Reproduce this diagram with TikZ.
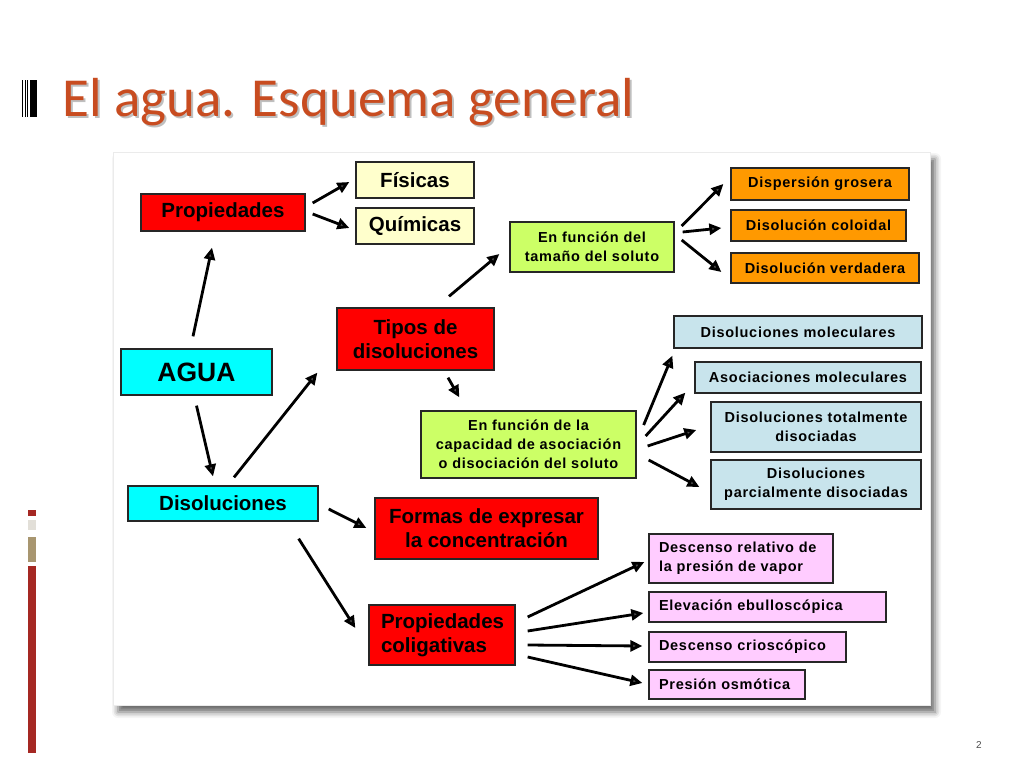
\documentclass[tikz,border=0pt]{standalone}
\usepackage{fontspec}
\setmainfont{Liberation Sans}
\newfontfamily\titlefont{Carlito}
\newfontfamily\boxfont[LetterSpace=5]{Liberation Sans}
\usetikzlibrary{arrows.meta,calc,shadows.blur}
\definecolor{titlered}{RGB}{200,76,32}
\definecolor{barred}{RGB}{165,40,35}
\definecolor{bargray}{RGB}{226,223,216}
\definecolor{bartan}{RGB}{168,150,112}
\definecolor{boxred}{RGB}{255,0,0}
\definecolor{boxcyan}{RGB}{0,255,255}
\definecolor{paleyellow}{RGB}{255,255,204}
\definecolor{limegreen}{RGB}{204,255,102}
\definecolor{boxorange}{RGB}{255,153,0}
\definecolor{paleblue}{RGB}{200,228,236}
\definecolor{palepink}{RGB}{255,204,255}
\tikzset{
	box/.style={draw=black!85, line width=1.3pt, inner sep=0pt, align=center,
			font=\bfseries\fontsize{20.5}{24}\selectfont},
	small/.style={box, font=\boxfont\bfseries\fontsize{14.5}{19}\selectfont},
	wh/.style 2 args={minimum width=#1pt, minimum height=#2pt},
	redbox/.style={box, fill=boxred},
	cyanbox/.style={box, fill=boxcyan},
	yellowbox/.style={box, fill=paleyellow},
	greenbox/.style={small, fill=limegreen},
	orangebox/.style={small, fill=boxorange},
	bluebox/.style={small, fill=paleblue},
	pinkbox/.style={small, fill=palepink, align=left},
	arr/.style={-{Triangle[length=12pt,width=11pt]}, line width=2.8pt}
}

\begin{document}
\begin{tikzpicture}[x=1pt,y=-1pt]
	\useasboundingbox (0,0) rectangle (1024,768);

	% slide decoration
	\foreach \xx in {22.5,25,27.5} \fill[black] (\xx-0.5,80) rectangle (\xx+0.5,117);
	\fill[black] (30,80) rectangle (37,117);
	\node[anchor=base west, inner sep=0, text=black!25, font=\titlefont\fontsize{55}{60}\selectfont] (titleshadow) at (64,118) {El agua. Esquema general};
	\node[anchor=base west, inner sep=0, text=titlered, font=\titlefont\fontsize{55}{60}\selectfont] (title) at (62,116) {El agua. Esquema general};
	\fill[barred] (28,510) rectangle (36,516);
	\fill[bargray] (28,520) rectangle (36,530);
	\fill[bartan] (28,537) rectangle (36,562);
	\fill[barred] (28,566) rectangle (36,753);
	\node[text=black!70, font=\fontsize{10}{12}\selectfont] (pagenum) at (979,745) {2};

	\fill[white, draw=black!8, blur shadow={shadow xshift=5pt, shadow yshift=-7pt, shadow blur radius=6pt, shadow opacity=60}] (113,152) rectangle (930,705);

	% nodes
	\node[cyanbox, wh={151}{46}, font=\bfseries\fontsize{26.5}{30}\selectfont] (agua) at (196.5,372) {AGUA};
	\node[redbox, wh={164}{37}] (prop) at (223,212.5) {Propiedades};
	\node[yellowbox, wh={118}{36}] (fis) at (415,180) {Físicas};
	\node[yellowbox, wh={118}{36}] (qui) at (415,226) {Químicas};
	\node[cyanbox, wh={190}{35}] (diso) at (223,503.5) {Disoluciones};
	\node[redbox, wh={157}{62}] (tipos) at (415.5,339) {Tipos de\\disoluciones};
	\node[greenbox, wh={164}{50}] (tam) at (592,247) {En función del\\tamaño del soluto};
	\node[orangebox, wh={178}{32}] (disp) at (820,184) {Dispersión grosera};
	\node[orangebox, wh={175}{31}] (colo) at (818.5,225.5) {Disolución coloidal};
	\node[orangebox, wh={188}{30}] (verd) at (825,268) {Disolución verdadera};
	\node[greenbox, wh={215}{67}] (cap) at (528.5,444.5) {En función de la\\capacidad de asociación\\o disociación del soluto};
	\node[bluebox, wh={248}{32}] (dmol) at (798,332) {Disoluciones moleculares};
	\node[bluebox, wh={226}{31}] (asoc) at (808,377.5) {Asociaciones moleculares};
	\node[bluebox, wh={210}{50}] (dtot) at (816,427) {Disoluciones totalmente\\disociadas};
	\node[bluebox, wh={210}{49}] (dpar) at (816,484.5) {Disoluciones\\parcialmente disociadas};
	\node[redbox, wh={223}{61}] (formas) at (486.5,528.5) {Formas de expresar\\la concentración};
	\node[redbox, wh={146}{60}, text width=122pt, align=left] (colig) at (442,635) {Propiedades\\coligativas};
	\node[pinkbox, wh={184}{49}, text width=164pt] (desc) at (741,558.5) {Descenso relativo de\\la presión de vapor};
	\node[pinkbox, wh={237}{30}, text width=217pt] (elev) at (767.5,607) {Elevación ebulloscópica};
	\node[pinkbox, wh={197}{30}, text width=177pt] (crio) at (747.5,647) {Descenso crioscópico};
	\node[pinkbox, wh={156}{29}, text width=136pt] (osmo) at (727,684.5) {Presión osmótica};

	% arrows
	\draw[arr] ($(agua.north)+(-3.5,-12)$) -- ($(prop.south)+(-11,16)$);
	\draw[arr] ($(prop.east)+(7,-9.5)$) -- ($(fis.west)+(-6,2)$);
	\draw[arr] ($(prop.east)+(7,1.5)$) -- ($(qui.west)+(-6,2)$);
	\draw[arr] ($(agua.south)+(0,10)$) -- ($(diso.north)+(-10,-9)$);
	\draw[arr] ($(diso.north)+(11,-8)$) -- ($(tipos.south west)+(-19,2)$);
	\draw[arr] ($(tipos.north)+(33.5,-11)$) -- ($(tam.west)+(-10,7)$);
	\draw[arr] ($(tipos.south)+(32.5,7)$) -- ($(cap.north west)+(39,-13)$);
	\draw[arr] ($(tam.east)+(7,-21)$) -- ($(disp.west)+(-7,0)$);
	\draw[arr] ($(tam.east)+(8,-15)$) -- ($(colo.west)+(-9,2.5)$);
	\draw[arr] ($(tam.east)+(7,-7)$) -- ($(verd.west)+(-9,4)$);
	\draw[arr] ($(cap.east)+(7,-19.5)$) -- ($(dmol.south west)+(-1,7)$);
	\draw[arr] ($(cap.east)+(9,-8.5)$) -- ($(asoc.south west)+(-9,-1)$);
	\draw[arr] ($(cap.east)+(11,1.5)$) -- ($(dtot.west)+(-14,3)$);
	\draw[arr] ($(cap.east)+(12,15.5)$) -- ($(dpar.west)+(-11,2.5)$);
	\draw[arr] ($(diso.east)+(10,5.5)$) -- ($(formas.west)+(-8,-0.5)$);
	\draw[arr] ($(diso.south east)+(-20,17)$) -- ($(colig.west)+(-13,-7)$);
	\draw[arr] ($(colig.east)+(12,-18)$) -- ($(desc.west)+(-4,3.5)$);
	\draw[arr] ($(colig.east)+(12,-4)$) -- ($(elev.west)+(-5,6)$);
	\draw[arr] ($(colig.east)+(12,10)$) -- ($(crio.west)+(-6,-1)$);
	\draw[arr] ($(colig.east)+(12,22)$) -- ($(osmo.west)+(-6,-1.5)$);
\end{tikzpicture}
\end{document}
